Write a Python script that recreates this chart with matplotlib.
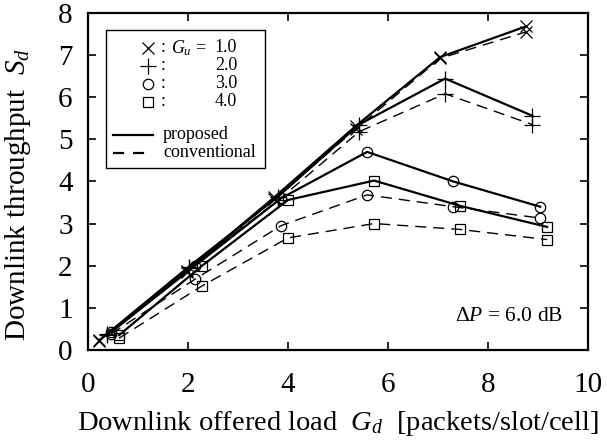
import matplotlib
matplotlib.use("Agg")
import matplotlib.pyplot as plt

plt.rcParams['font.family'] = ['Liberation Serif', 'DejaVu Serif']
plt.rcParams['mathtext.fontset'] = 'custom'
plt.rcParams['mathtext.rm'] = 'Liberation Serif'
plt.rcParams['mathtext.it'] = 'Liberation Serif:italic'

# G_u = 1.0, 2.0, 3.0, 4.0
gu_labels = ['1.0', '2.0', '3.0', '4.0']
markers = ['x', '+', 'o', 's']
marker_sizes = [9, 11, 7.5, 7.5]

gd_x = [
    [0.22, 1.98, 3.72, 5.36, 7.04, 8.76],
    [0.38, 2.02, 3.80, 5.42, 7.14, 8.88],
    [0.46, 2.14, 3.86, 5.58, 7.30, 9.04],
    [0.62, 2.28, 4.00, 5.72, 7.44, 9.18],
]
sd_proposed = [
    [0.23, 1.88, 3.62, 5.32, 6.95, 7.68],
    [0.38, 1.98, 3.64, 5.35, 6.44, 5.56],
    [0.42, 2.00, 3.60, 4.70, 4.00, 3.40],
    [0.35, 2.00, 3.56, 4.02, 3.42, 2.92],
]
sd_conventional = [
    [0.22, 1.85, 3.58, 5.25, 6.92, 7.55],
    [0.36, 1.95, 3.55, 5.18, 6.08, 5.35],
    [0.38, 1.68, 2.95, 3.68, 3.40, 3.13],
    [0.28, 1.52, 2.66, 3.00, 2.86, 2.62],
]

fig = plt.figure(figsize=(6.07, 4.43), dpi=100)
ax = fig.add_axes([0.145, 0.210, 0.824, 0.761])

for i in range(4):
    ax.plot(gd_x[i], sd_proposed[i], color='black', lw=1.6, ls='-',
            marker=markers[i], ms=marker_sizes[i], mfc='none', mec='black', mew=0.9)
    ax.plot(gd_x[i], sd_conventional[i], color='black', lw=1.0, ls=(0, (8, 5)),
            marker=markers[i], ms=marker_sizes[i], mfc='none', mec='black', mew=0.9)

ax.set_xlim(0, 10)
ax.set_ylim(0, 8)
ax.set_xticks(range(0, 11, 2))
ax.set_yticks(range(0, 9))
ax.tick_params(direction='in', top=True, right=True, length=6, width=1.2, labelsize=21)
ax.tick_params(axis='x', pad=16)
ax.tick_params(axis='y', pad=11)
for s in ax.spines.values():
    s.set_linewidth(1.6)

ax.set_xlabel(r'Downlink offered load  $G_d$  [packets/slot/cell]', fontsize=20.5)
ax.set_ylabel(r'Downlink throughput  $S_d$', fontsize=21)
ax.xaxis.set_label_coords(0.5, -0.175)
ax.yaxis.set_label_coords(-0.11, 0.46)

# hand-drawn legend box
lx0, lx1, ly0, ly1 = 0.036, 0.354, 0.540, 0.950
ax.add_patch(plt.Rectangle((lx0, ly0), lx1 - lx0, ly1 - ly0, transform=ax.transAxes,
                           fill=False, lw=1.0, ec='black', zorder=5))
rows = [0.896, 0.843, 0.789, 0.736]
for i in range(4):
    ax.plot([0.12], [rows[i]], transform=ax.transAxes, marker=markers[i],
            ms=marker_sizes[i], mfc='none', mec='black', mew=0.9, ls='none')
    ax.text(0.145, rows[i], ':', transform=ax.transAxes, fontsize=13, va='center')
    ax.text(0.298, rows[i], gu_labels[i], transform=ax.transAxes, fontsize=13,
            va='center', ha='right')
ax.text(0.166, rows[0], r'$G_u$ =', transform=ax.transAxes, fontsize=13, va='center')
ax.plot([0.05, 0.13], [0.638, 0.638], transform=ax.transAxes, color='black', lw=1.6)
ax.plot([0.05, 0.13], [0.585, 0.585], transform=ax.transAxes, color='black', lw=1.6,
        ls=(0, (5, 4)))
ax.text(0.15, 0.638, 'proposed', transform=ax.transAxes, fontsize=13, va='center')
ax.text(0.15, 0.585, 'conventional', transform=ax.transAxes, fontsize=13, va='center')

ax.text(0.95, 0.085, r'$\Delta P$ = 6.0 dB', transform=ax.transAxes, fontsize=15.5,
        ha='right', va='baseline')

fig.savefig('out.png', dpi=100)
